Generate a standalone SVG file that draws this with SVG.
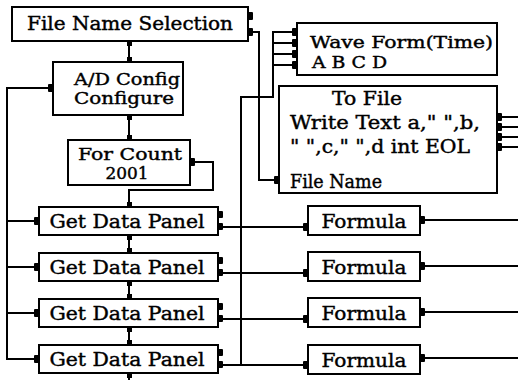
<svg xmlns="http://www.w3.org/2000/svg" width="518" height="380" viewBox="0 0 518 380">
  <style>
    .box { fill: #fff; stroke: #000; stroke-width: 2; }
    .lbl { font-family: "DejaVu Serif", "Liberation Serif", serif; font-size: 18px; fill: #000; stroke: #000; stroke-width: 0.4; }
    .sm { font-size: 16px; }
    .mid { text-anchor: middle; }
    .wire { fill: none; stroke: #000; stroke-width: 2; }
    .port { fill: #000; }
  </style>
  <rect width="518" height="380" fill="#fff"/>

  <!-- connectors -->
  <g id="connectors" class="wire">
    <!-- sequence chain -->
    <path d="M129 41 V62"/>
    <path d="M129 115 V140"/>
    <path d="M193 162 H213 V190 H129 V207"/>
    <path d="M129 235 V253"/>
    <path d="M129 281 V299"/>
    <path d="M129 327 V345"/>
    <path d="M129 373 V380"/>
    <!-- left rail: A/D config to each Get Data Panel -->
    <path d="M50 88 H7 V359 H36"/>
    <path d="M7 221 H36"/>
    <path d="M7 267 H36"/>
    <path d="M7 313 H36"/>
    <!-- file name wire -->
    <path d="M251 32 H259 V180 H276"/>
    <!-- data to formulas and wave form -->
    <path d="M221 227 H305"/>
    <path d="M221 273 H305"/>
    <path d="M221 319 H305"/>
    <path d="M221 365 H305"/>
    <path d="M241 365 V97 H273 V32 H294"/>
    <path d="M273 43 H294"/>
    <path d="M273 54 H294"/>
    <path d="M273 65 H294"/>
    <!-- formula outputs -->
    <path d="M422 220 H518"/>
    <path d="M422 266 H518"/>
    <path d="M422 312 H518"/>
    <path d="M422 358 H518"/>
    <!-- to file inputs -->
    <path d="M499 117 H518"/>
    <path d="M499 127 H518"/>
    <path d="M499 137 H518"/>
    <path d="M499 147 H518"/>
  </g>

  <g id="file-name-selection">
    <rect class="box" x="12" y="7" width="236" height="34"/>
    <text class="lbl mid" x="130" y="30" textLength="206" lengthAdjust="spacingAndGlyphs">File Name Selection</text>
    <rect class="port" x="248" y="12" width="5" height="8" rx="1"/>
    <rect class="port" x="248" y="28" width="5" height="8" rx="1"/>
    <rect class="port" x="127" y="41" width="5" height="5"/>
  </g>

  <g id="ad-config">
    <rect class="box" x="53" y="62" width="130" height="53"/>
    <text class="lbl sm mid" x="127" y="85" textLength="106" lengthAdjust="spacingAndGlyphs">A/D Config</text>
    <text class="lbl sm mid" x="124" y="104" textLength="100" lengthAdjust="spacingAndGlyphs">Configure</text>
    <rect class="port" x="127" y="57" width="5" height="5"/>
    <rect class="port" x="127" y="115" width="5" height="5"/>
    <rect class="port" x="48" y="84" width="5" height="8" rx="1"/>
  </g>

  <g id="for-count">
    <rect class="box" x="68" y="140" width="122" height="45"/>
    <text class="lbl sm mid" x="130" y="160" textLength="104" lengthAdjust="spacingAndGlyphs">For Count</text>
    <text class="lbl sm mid" x="127" y="179" textLength="43" lengthAdjust="spacingAndGlyphs">2001</text>
    <rect class="port" x="127" y="135" width="5" height="5"/>
    <rect class="port" x="190" y="158" width="5" height="8" rx="1"/>
  </g>

  <g id="get-data-panel-1">
    <rect class="box" x="39" y="207" width="179" height="28"/>
    <text class="lbl mid" x="127" y="228" textLength="155" lengthAdjust="spacingAndGlyphs">Get Data Panel</text>
    <rect class="port" x="127" y="202" width="5" height="5"/>
    <rect class="port" x="127" y="235" width="5" height="5"/>
    <rect class="port" x="34" y="217" width="5" height="8" rx="1"/>
    <rect class="port" x="218" y="211" width="5" height="7" rx="1"/>
    <rect class="port" x="218" y="223" width="5" height="7" rx="1"/>
  </g>

  <g id="get-data-panel-2">
    <rect class="box" x="39" y="253" width="179" height="28"/>
    <text class="lbl mid" x="127" y="274" textLength="155" lengthAdjust="spacingAndGlyphs">Get Data Panel</text>
    <rect class="port" x="127" y="248" width="5" height="5"/>
    <rect class="port" x="127" y="281" width="5" height="5"/>
    <rect class="port" x="34" y="263" width="5" height="8" rx="1"/>
    <rect class="port" x="218" y="257" width="5" height="7" rx="1"/>
    <rect class="port" x="218" y="269" width="5" height="7" rx="1"/>
  </g>

  <g id="get-data-panel-3">
    <rect class="box" x="39" y="299" width="179" height="28"/>
    <text class="lbl mid" x="127" y="320" textLength="155" lengthAdjust="spacingAndGlyphs">Get Data Panel</text>
    <rect class="port" x="127" y="294" width="5" height="5"/>
    <rect class="port" x="127" y="327" width="5" height="5"/>
    <rect class="port" x="34" y="309" width="5" height="8" rx="1"/>
    <rect class="port" x="218" y="303" width="5" height="7" rx="1"/>
    <rect class="port" x="218" y="315" width="5" height="7" rx="1"/>
  </g>

  <g id="get-data-panel-4">
    <rect class="box" x="39" y="345" width="179" height="28"/>
    <text class="lbl mid" x="127" y="366" textLength="155" lengthAdjust="spacingAndGlyphs">Get Data Panel</text>
    <rect class="port" x="127" y="340" width="5" height="5"/>
    <rect class="port" x="127" y="373" width="5" height="5"/>
    <rect class="port" x="34" y="355" width="5" height="8" rx="1"/>
    <rect class="port" x="218" y="349" width="5" height="7" rx="1"/>
    <rect class="port" x="218" y="361" width="5" height="7" rx="1"/>
  </g>

  <g id="formula-1">
    <rect class="box" x="308" y="206" width="112" height="29"/>
    <text class="lbl mid" x="364" y="228" textLength="85" lengthAdjust="spacingAndGlyphs">Formula</text>
    <rect class="port" x="303" y="223" width="5" height="8" rx="1"/>
    <rect class="port" x="420" y="216" width="5" height="8" rx="1"/>
  </g>

  <g id="formula-2">
    <rect class="box" x="308" y="252" width="112" height="29"/>
    <text class="lbl mid" x="364" y="274" textLength="85" lengthAdjust="spacingAndGlyphs">Formula</text>
    <rect class="port" x="303" y="269" width="5" height="8" rx="1"/>
    <rect class="port" x="420" y="262" width="5" height="8" rx="1"/>
  </g>

  <g id="formula-3">
    <rect class="box" x="308" y="298" width="112" height="29"/>
    <text class="lbl mid" x="364" y="320" textLength="85" lengthAdjust="spacingAndGlyphs">Formula</text>
    <rect class="port" x="303" y="315" width="5" height="8" rx="1"/>
    <rect class="port" x="420" y="308" width="5" height="8" rx="1"/>
  </g>

  <g id="formula-4">
    <rect class="box" x="308" y="345" width="112" height="29"/>
    <text class="lbl mid" x="364" y="367" textLength="85" lengthAdjust="spacingAndGlyphs">Formula</text>
    <rect class="port" x="303" y="361" width="5" height="8" rx="1"/>
    <rect class="port" x="420" y="354" width="5" height="8" rx="1"/>
  </g>

  <g id="wave-form">
    <rect class="box" x="297" y="23" width="200" height="52"/>
    <text class="lbl sm" x="310" y="48" textLength="183" lengthAdjust="spacingAndGlyphs">Wave Form(Time)</text>
    <text class="lbl sm" x="312" y="68" textLength="75" lengthAdjust="spacingAndGlyphs">A B C D</text>
    <rect class="port" x="292" y="28" width="5" height="8" rx="1"/>
    <rect class="port" x="292" y="39" width="5" height="8" rx="1"/>
    <rect class="port" x="292" y="50" width="5" height="8" rx="1"/>
    <rect class="port" x="292" y="61" width="5" height="8" rx="1"/>
  </g>

  <g id="to-file">
    <rect class="box" x="279" y="86" width="218" height="107"/>
    <text class="lbl mid" x="367" y="105" textLength="70" lengthAdjust="spacingAndGlyphs">To File</text>
    <text class="lbl" x="290" y="129" textLength="190" lengthAdjust="spacingAndGlyphs">Write Text a,&quot; &quot;,b,</text>
    <text class="lbl" x="290" y="153" textLength="180" lengthAdjust="spacingAndGlyphs">&quot; &quot;,c,&quot; &quot;,d int EOL</text>
    <text class="lbl" x="290" y="188" textLength="92" lengthAdjust="spacingAndGlyphs">File Name</text>
    <rect class="port" x="274" y="176" width="5" height="8" rx="1"/>
    <rect class="port" x="497" y="113" width="5" height="8" rx="1"/>
    <rect class="port" x="497" y="123" width="5" height="8" rx="1"/>
    <rect class="port" x="497" y="133" width="5" height="8" rx="1"/>
    <rect class="port" x="497" y="143" width="5" height="8" rx="1"/>
  </g>
</svg>
